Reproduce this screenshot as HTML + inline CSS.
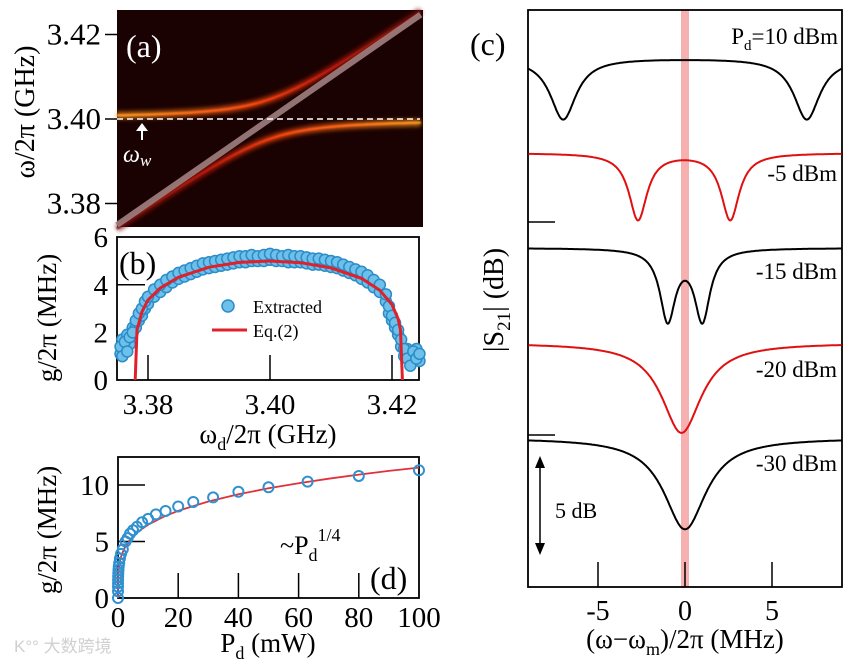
<!DOCTYPE html>
<html><head><meta charset="utf-8">
<style>
html,body{margin:0;padding:0;background:#fff;}
svg{display:block;font-family:"Liberation Serif","Noto Serif CJK SC",serif;}
</style></head>
<body>
<svg id="fig" width="856" height="665" viewBox="0 0 856 665" xmlns="http://www.w3.org/2000/svg">
<defs>
<filter id="glow" x="-10%" y="-50%" width="120%" height="200%"><feGaussianBlur stdDeviation="2.2"/></filter>
<filter id="glow2" x="-10%" y="-50%" width="120%" height="200%"><feGaussianBlur stdDeviation="0.8"/></filter>
<linearGradient id="gUp" gradientUnits="userSpaceOnUse" x1="117" y1="0" x2="420" y2="0">
<stop offset="0" stop-color="#ff9a20"/><stop offset="0.45" stop-color="#ff4a10"/><stop offset="0.7" stop-color="#c01808"/><stop offset="1" stop-color="#701008"/></linearGradient>
<linearGradient id="gLo" gradientUnits="userSpaceOnUse" x1="117" y1="0" x2="420" y2="0">
<stop offset="0" stop-color="#701008"/><stop offset="0.3" stop-color="#c01808"/><stop offset="0.55" stop-color="#ff4a10"/><stop offset="1" stop-color="#ff9a20"/></linearGradient>
</defs>
<g id="pa"></g>
<g id="pb"></g>
<g id="pd"></g>
<g id="pc"></g>
<text x="14" y="652" font-size="17" fill="#d0d0d0" font-family="Liberation Sans, Noto Sans CJK SC, sans-serif">K°° 大数跨境</text>
</svg>
<script>
// ---------- Panel (a) data ----------
const aOmegaW = [3.40];
const aCoupling = [0.0047];
const aDetuneXs = [3.3749,3.378,3.381,3.384,3.387,3.390,3.393,3.396,3.398,3.400,3.402,3.404,3.407,3.410,3.413,3.416,3.419,3.422,3.4247];
const aYTicks = [3.38,3.40,3.42];
const aYTickLabels = ["3.38","3.40","3.42"];
// ---------- Panel (b) data ----------
const bXs = [3.3755,3.3758,3.3762,3.3766,3.3770,3.3775,3.3780,3.3785,3.3790,3.3795,3.380,3.381,3.382,3.383,3.384,3.385,3.386,3.387,3.388,3.389,3.390,3.391,3.392,3.393,3.394,3.395,3.396,3.397,3.398,3.399,3.400,3.401,3.402,3.403,3.404,3.405,3.406,3.407,3.408,3.409,3.410,3.411,3.412,3.413,3.414,3.415,3.416,3.417,3.418,3.419,3.4195,3.420,3.4205,3.421,3.4215,3.422,3.4225,3.423,3.4235,3.424,3.4245];
const bExtractedA = [1.4,1.0,1.6,1.2,1.8,2.0,2.5,2.8,3.0,3.3,3.5,3.8,4.0,4.2,4.35,4.5,4.6,4.7,4.8,4.9,4.95,5.0,5.05,5.1,5.15,5.2,5.2,5.25,5.2,5.25,5.3,5.25,5.2,5.25,5.2,5.2,5.15,5.1,5.1,5.05,5.0,4.95,4.85,4.75,4.65,4.55,4.4,4.2,4.0,3.6,3.1,2.7,2.4,2.1,1.7,1.3,0.9,0.6,1.2,0.9,1.1];
const bExtractedB = [1.1,1.7,1.3,1.9,1.5,2.2,2.2,2.5,2.7,3.0,3.2,3.5,3.7,3.9,4.1,4.25,4.35,4.45,4.55,4.65,4.7,4.75,4.8,4.85,4.9,4.95,4.95,5.0,5.0,5.0,5.05,5.0,5.0,4.95,4.95,4.95,4.9,4.85,4.85,4.8,4.75,4.7,4.6,4.5,4.4,4.25,4.1,3.9,3.7,3.3,2.8,2.5,2.2,1.9,1.4,1.0,1.3,0.8,0.9,1.3,0.8];
const bFitXs = [3.3779,3.3782,3.3790,3.380,3.382,3.385,3.390,3.395,3.400,3.405,3.410,3.415,3.418,3.420,3.421,3.4214,3.4217];
const bFitYs = [0,2.1,2.86,3.36,3.86,4.32,4.74,4.94,5.0,4.93,4.71,4.27,3.77,3.17,2.57,2.1,0];
const bXTicks = [3.38,3.40,3.42];
const bXTickLabels = ["3.38","3.40","3.42"];
const bYTicks = [0,2,4,6];
const bYTickLabels = ["0","2","4","6"];
// ---------- Panel (d) data ----------
const dPowers = [0,0.002,0.006,0.015,0.03,0.06,0.1,0.16,0.25,0.4,0.63,1.0,1.6,2.5,3.2,4,5,6.3,8,10,12.6,15.8,20,25,31.6,40,50,63,80,100];
const dCoupling = [0,0.6,1.0,1.3,1.6,1.9,2.2,2.5,2.8,3.1,3.5,3.9,4.3,5.0,5.3,5.7,6.0,6.3,6.7,7.0,7.4,7.7,8.1,8.5,8.9,9.4,9.8,10.3,10.8,11.3];
const dFitP = [0,0.01,0.05,0.1,0.3,0.6,1,2,4,7,10,15,20,30,40,50,60,70,80,90,100];
const dFitG = [0,1.15,1.73,2.05,2.70,3.22,3.65,4.34,5.16,5.94,6.49,7.18,7.72,8.54,9.18,9.71,10.16,10.56,10.92,11.25,11.54];
const dXTicks = [0,20,40,60,80,100];
const dXTickLabels = ["0","20","40","60","80","100"];
const dYTicks = [0,5,10];
const dYTickLabels = ["0","5","10"];
// ---------- Panel (c) data ----------
const cLabels = ["P_d=10 dBm","-5 dBm","-15 dBm","-20 dBm","-30 dBm"];
const cOffsets = [0,-5,-10,-15,-20];
const cDipCenters = [[-7.0,7.0],[-2.7,2.6],[-1.0,1.0],[-0.2],[0.0]];
const cDipDepths = [[0.31,0.31],[0.33,0.33],[0.34,0.34],[0.42],[0.425]];
const cDipWidths = [[1.0,1.0],[0.7,0.7],[0.6,0.6],[1.6],[1.7]];
const cColors = ["#000","#e01010","#000","#e01010","#000"];
const cXTicks = [-5,0,5];
const cXTickLabels = ["-5","0","5"];

const NS="http://www.w3.org/2000/svg";
function mk(parent,tag,attrs,name,text){
  const e=document.createElementNS(NS,tag);
  for(const k in attrs) e.setAttribute(k,attrs[k]);
  
  
  if(text!==undefined) e.textContent=text;
  parent.appendChild(e); return e;
}
const xab = v => 270 + (v-3.40)*6100;

// ===== Panel a =====
(function(){
  const g=document.getElementById('pa');
  const ya = v => 119 - (v-3.40)*4225;
  mk(g,'rect',{x:117,y:10,width:306,height:217,fill:'#1a0202'},'heatmap-background');
  const w=aOmegaW[0], c=aCoupling[0];
  const up=[],lo=[];
  const fine=[];
  for(let i=0;i<aDetuneXs.length-1;i++){for(let k=0;k<6;k++)fine.push(aDetuneXs[i]+(aDetuneXs[i+1]-aDetuneXs[i])*k/6);}
  fine.push(aDetuneXs[aDetuneXs.length-1]);
  fine.forEach(d=>{const m=(w+d)/2, r=Math.sqrt(((d-w)/2)**2+c*c);
    up.push(xab(d).toFixed(1)+','+ya(m+r).toFixed(1)); lo.push(xab(d).toFixed(1)+','+ya(m-r).toFixed(1));});
  mk(g,'line',{x1:117,y1:ya(w),x2:423,y2:ya(w),stroke:'#ff3a08',"stroke-width":8,filter:'url(#glow)',opacity:0.9},'bright-band-glow');
  mk(g,'line',{x1:117,y1:ya(w),x2:423,y2:ya(w),stroke:'#ffc030',"stroke-width":3,filter:'url(#glow2)'},'bright-band');
  [[up,'url(#gUp)','upper-branch'],[lo,'url(#gLo)','lower-branch']].forEach(([pts,col,n])=>{
    mk(g,'polyline',{points:pts.join(' '),fill:'none',stroke:col,"stroke-width":7,filter:'url(#glow)',opacity:0.7},n+'-glow');
    mk(g,'polyline',{points:pts.join(' '),fill:'none',stroke:col,"stroke-width":2.2,filter:'url(#glow2)'},n);
  });
  mk(g,'line',{x1:xab(3.3749),y1:ya(3.3749),x2:xab(3.4247),y2:ya(3.4247),stroke:'#a08080',"stroke-width":6,opacity:0.9},'uncoupled-diagonal');
  mk(g,'line',{x1:117,y1:ya(w),x2:420,y2:ya(w),stroke:'#fff',"stroke-width":1.5,"stroke-dasharray":'6,4'},'omega-w-dashed-line');
  mk(g,'line',{x1:142,y1:140,x2:142,y2:130,stroke:'#fff',"stroke-width":2},'omega-w-arrow');
  mk(g,'polygon',{points:'136,131 148,131 142,123',fill:'#fff'},'omega-w-arrowhead');
  const t=mk(g,'text',{x:123,y:162,"font-size":24,fill:'#fff',"font-style":'italic'},'omega-w-label','ω');
  mk(t,'tspan',{"font-size":17,dy:4},'omega-w-subscript','w');
  mk(g,'text',{x:126,y:57,"font-size":32,fill:'#fff'},'panel-a-label','(a)');
  aYTicks.forEach((v,i)=>{
    mk(g,'line',{x1:105,y1:ya(v),x2:117,y2:ya(v),stroke:'#000',"stroke-width":1.5},'y-tick-a');
    mk(g,'text',{x:101,y:ya(v)+10,"font-size":31,"text-anchor":'end'},'y-tick-label-a',aYTickLabels[i]);
  });
  mk(g,'text',{x:0,y:0,"font-size":28,"text-anchor":'middle',transform:'translate(34,112) rotate(-90)'},'y-axis-title-a','ω/2π  (GHz)');
})();

// ===== Panel b =====
(function(){
  const g=document.getElementById('pb');
  const yb = v => 380 - v*23.8;
  mk(g,'rect',{x:117,y:237,width:302,height:143,fill:'none',stroke:'#000',"stroke-width":1.8},'plot-frame-b');
  bXTicks.forEach((v,i)=>{
    mk(g,'line',{x1:xab(v),y1:380,x2:xab(v),y2:355,stroke:'#000',"stroke-width":1.5},'x-tick-b');
    mk(g,'text',{x:xab(v),y:414,"font-size":29,"text-anchor":'middle'},'x-tick-label-b',bXTickLabels[i]);
  });
  bYTicks.forEach((v,i)=>{
    if(v===4) mk(g,'line',{x1:117,y1:yb(v),x2:145,y2:yb(v),stroke:'#000',"stroke-width":1.5},'y-tick-b');
    mk(g,'text',{x:108,y:yb(v)+10,"font-size":29,"text-anchor":'end'},'y-tick-label-b',bYTickLabels[i]);
  });
  [bExtractedB,bExtractedA].forEach(arr=>{
    arr.forEach((v,i)=>{
      mk(g,'circle',{cx:xab(bXs[i]),cy:yb(v),r:5.5,fill:'#6cc0ea',stroke:'#2c8cc8',"stroke-width":1.5},'extracted-point');
    });
  });
  mk(g,'polyline',{points:bFitXs.map((x,i)=>xab(x).toFixed(1)+','+yb(bFitYs[i]).toFixed(1)).join(' '),fill:'none',stroke:'#e0202a',"stroke-width":3},'eq2-fit-line');
  mk(g,'circle',{cx:228,cy:306,r:6,fill:'#6cc0ea',stroke:'#2c8cc8',"stroke-width":1.5},'legend-marker-extracted');
  mk(g,'text',{x:253,y:313,"font-size":18},'legend-label-extracted','Extracted');
  mk(g,'line',{x1:212,y1:330,x2:247,y2:330,stroke:'#e0202a',"stroke-width":3},'legend-marker-eq2');
  mk(g,'text',{x:253,y:337,"font-size":18},'legend-label-eq2','Eq.(2)');
  mk(g,'text',{x:119,y:274,"font-size":32},'panel-b-label','(b)');
  const xt=mk(g,'text',{x:268,y:443,"font-size":27,"text-anchor":'middle'},'x-axis-title-b','ω');
  mk(xt,'tspan',{"font-size":18,dy:7},'x-title-sub-b','d');
  mk(xt,'tspan',{dy:-7},'x-title-rest-b','/2π  (GHz)');
  mk(g,'text',{x:0,y:0,"font-size":27,"text-anchor":'middle',transform:'translate(56,318) rotate(-90)'},'y-axis-title-b','g/2π (MHz)');
})();

// ===== Panel d =====
(function(){
  const g=document.getElementById('pd');
  const xd = v => 118 + v*3.01;
  const yd = v => 598 - v*11.3;
  mk(g,'rect',{x:118,y:457,width:301,height:141,fill:'none',stroke:'#000',"stroke-width":1.8},'plot-frame-d');
  dXTicks.forEach((v,i)=>{
    if(v>0&&v<100) mk(g,'line',{x1:xd(v),y1:598,x2:xd(v),y2:573,stroke:'#000',"stroke-width":1.5},'x-tick-d');
    mk(g,'text',{x:xd(v),y:627,"font-size":29,"text-anchor":'middle'},'x-tick-label-d',dXTickLabels[i]);
  });
  dYTicks.forEach((v,i)=>{
    if(v>0) mk(g,'line',{x1:118,y1:yd(v),x2:145,y2:yd(v),stroke:'#000',"stroke-width":1.5},'y-tick-d');
    mk(g,'text',{x:109,y:yd(v)+10,"font-size":29,"text-anchor":'end'},'y-tick-label-d',dYTickLabels[i]);
  });
  mk(g,'polyline',{points:dFitP.map((p,i)=>xd(p).toFixed(1)+','+yd(dFitG[i]).toFixed(1)).join(' '),fill:'none',stroke:'#e0303a',"stroke-width":1.8},'power-law-fit-line');
  dPowers.forEach((p,i)=>{
    mk(g,'circle',{cx:xd(p),cy:yd(dCoupling[i]),r:5,fill:'none',stroke:'#3090d0',"stroke-width":2},'coupling-point');
  });
  const t=mk(g,'text',{x:280,y:554,"font-size":26},'power-law-label','~P');
  mk(t,'tspan',{"font-size":18,dy:7},'power-law-sub','d');
  mk(t,'tspan',{"font-size":18,dy:-20},'power-law-exp','1/4');
  mk(g,'text',{x:370,y:589,"font-size":32},'panel-d-label','(d)');
  const xt=mk(g,'text',{x:268,y:652,"font-size":27,"text-anchor":'middle'},'x-axis-title-d','P');
  mk(xt,'tspan',{"font-size":18,dy:7},'x-title-sub-d','d');
  mk(xt,'tspan',{dy:-7},'x-title-rest-d',' (mW)');
  mk(g,'text',{x:0,y:0,"font-size":27,"text-anchor":'middle',transform:'translate(56,530) rotate(-90)'},'y-axis-title-d','g/2π (MHz)');
})();

// ===== Panel c =====
(function(){
  const g=document.getElementById('pc');
  const xc = v => 685 + v*17.4;
  const yc = db => 58 - db*19;
  mk(g,'rect',{x:681,y:10,width:8,height:577,fill:'#f6b0b0'},'resonance-band');
  mk(g,'rect',{x:528,y:10,width:314,height:577,fill:'none',stroke:'#000',"stroke-width":1.8},'plot-frame-c');
  cXTicks.forEach((v,i)=>{
    mk(g,'line',{x1:xc(v),y1:587,x2:xc(v),y2:562,stroke:'#000',"stroke-width":1.5},'x-tick-c');
    mk(g,'text',{x:xc(v),y:620,"font-size":28,"text-anchor":'middle'},'x-tick-label-c',cXTickLabels[i]);
  });
  mk(g,'line',{x1:528,y1:222,x2:555,y2:222,stroke:'#000',"stroke-width":1.5},'y-tick-c');
  mk(g,'line',{x1:528,y1:435,x2:555,y2:435,stroke:'#000',"stroke-width":1.5},'y-tick-c');
  cOffsets.forEach((off,k)=>{
    const pts=[];
    for(let i=0;i<=360;i++){
      const x=-9+18*i/360;
      let s=1;
      cDipCenters[k].forEach((c,j)=>{ s-=cDipDepths[k][j]/(1+((x-c)/cDipWidths[k][j])**2); });
      const db=off+20*Math.log10(s);
      pts.push(xc(x).toFixed(1)+','+yc(db).toFixed(1));
    }
    mk(g,'polyline',{points:pts.join(' '),fill:'none',stroke:cColors[k],"stroke-width":2},'s21-trace-'+k);
  });
  const labY=[44,181,279,377,471];
  cLabels.forEach((l,k)=>{
    if(k===0){
      const t=mk(g,'text',{x:838,y:labY[k],"font-size":23,"text-anchor":'end'},'trace-label-'+k,'P');
      mk(t,'tspan',{"font-size":15,dy:6},'trace-label-sub','d');
      mk(t,'tspan',{dy:-6},'trace-label-rest','=10 dBm');
    } else mk(g,'text',{x:837,y:labY[k],"font-size":23,"text-anchor":'end'},'trace-label-'+k,l);
  });
  mk(g,'line',{x1:540,y1:465,x2:540,y2:546,stroke:'#000',"stroke-width":1.5},'scale-arrow');
  mk(g,'polygon',{points:'535,468 545,468 540,456',fill:'#000'},'scale-arrow-top');
  mk(g,'polygon',{points:'535,543 545,543 540,555',fill:'#000'},'scale-arrow-bottom');
  mk(g,'text',{x:555,y:518,"font-size":22},'scale-label','5 dB');
  mk(g,'text',{x:470,y:55,"font-size":32},'panel-c-label','(c)');
  const yt=mk(g,'text',{x:0,y:0,"font-size":28,"text-anchor":'middle',transform:'translate(503,300) rotate(-90)'},'y-axis-title-c','|S');
  mk(yt,'tspan',{"font-size":19,dy:7},'y-title-sub-c','21');
  mk(yt,'tspan',{dy:-7},'y-title-rest-c','| (dB)');
  const xt=mk(g,'text',{x:685,y:648,"font-size":27,"text-anchor":'middle'},'x-axis-title-c','(ω−ω');
  mk(xt,'tspan',{"font-size":18,dy:7},'x-title-sub-c','m');
  mk(xt,'tspan',{dy:-7},'x-title-rest-c',')/2π  (MHz)');
})();
</script>
</body></html>
